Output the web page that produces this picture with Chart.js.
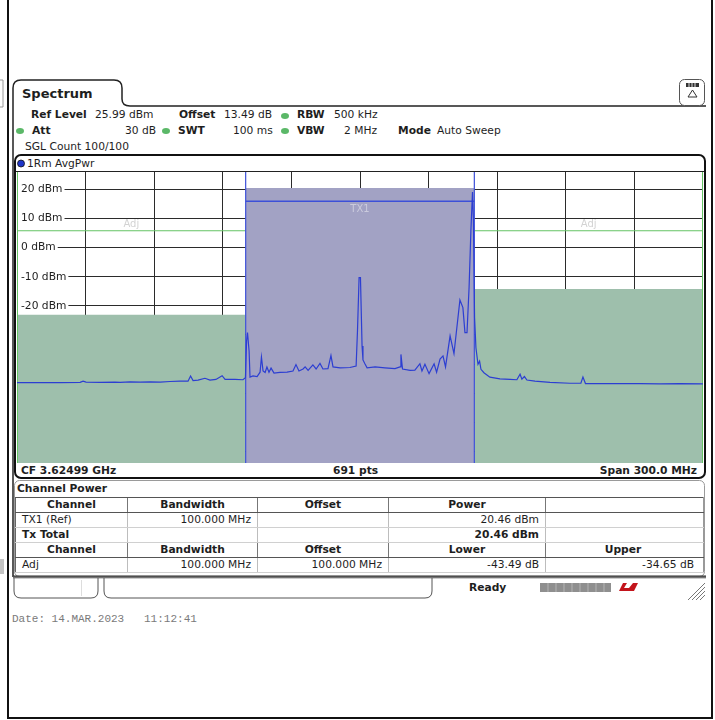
<!DOCTYPE html>
<html>
<head>
<meta charset="utf-8">
<title>Spectrum - Channel Power</title>
<script src="https://cdn.jsdelivr.net/npm/chart.js"></script>
<style>
  body { margin: 0; background: #fff; }
  #page { position: relative; width: 715px; height: 720px; overflow: hidden;
          font-family: "DejaVu Sans", Verdana, sans-serif; font-size: 10.7px; color: #1e1e1e; }
  #deco { position: absolute; left: 0; top: 0; }
  .t { position: absolute; white-space: nowrap; line-height: 13px; }
  .b { font-weight: bold; }
  .dot { position: absolute; width: 8px; height: 6px; border-radius: 50%; background: #5bb868; }
  #chartBox { position: absolute; left: 17px; top: 172px; width: 686px; height: 291px; }
  #cp { position: absolute; left: 15px; top: 497px; width: 688px; border-collapse: collapse; table-layout: fixed; }
  #cp td, #cp th { height: 14px; padding: 0 6px; line-height: 14px; font-size: 10.7px; white-space: nowrap;
                   border-left: 1px solid #bdbdbd; border-bottom: 1px solid #d0d0d0; overflow: hidden; }
  #cp th { text-align: center; font-weight: bold; border-top: 1px solid #555; border-bottom: 1px solid #555; border-left: 1px solid #777; }
  #cp td.r { text-align: right; }
  #cp tr td:last-child, #cp tr th:last-child { padding-right: 9px; border-right: 1px solid #999; }
  #cp tr > :first-child { border-left: 1px solid #666; }
  #date { position: absolute; left: 12px; top: 613px; font-family: "Liberation Mono", monospace; font-size: 11px; color: #7a7a7a; white-space: pre; }
</style>
</head>
<body>
<div id="page">
  <svg id="deco" width="715" height="720">
    <defs>
      <linearGradient id="sb" x1="0" y1="0" x2="0" y2="1">
        <stop offset="0" stop-color="#2a2a2a"/><stop offset="1" stop-color="#9a9a9a"/>
      </linearGradient>
    </defs>
    <rect x="8" y="-5" width="704" height="723" fill="none" stroke="#111" stroke-width="2"/>
    <path d="M0,80 H3 V107 H0" fill="none" stroke="#999" stroke-width="1"/>
    <path d="M1,559 V574 M3,559 V574" stroke="#888" stroke-width="1"/>
    <!-- Spectrum tab and panel -->
    <path d="M13,577 V88 Q13,80 21,80 H114 Q122,80 122,88 V99 Q122,106 130,106 H706" fill="none" stroke="#222" stroke-width="1.5"/>
    <rect x="679.5" y="79.5" width="25" height="26" rx="5" fill="#fff" stroke="#555"/>
    <rect x="686" y="83" width="13" height="4" fill="#333"/>
    <path d="M689,83 V87 M692,83 V87 M695,83 V87" stroke="#ddd" stroke-width="1"/>
    <path d="M692.5,90 L688,97 H697 Z" fill="none" stroke="#333" stroke-width="1"/>
    <!-- plot window -->
    <rect x="15" y="155" width="690" height="323" rx="6" fill="none" stroke="#111" stroke-width="2"/>
    <line x1="16" y1="171.5" x2="704" y2="171.5" stroke="#222" stroke-width="1"/>
    <circle cx="21" cy="163.5" r="3.5" fill="#1f35c8" stroke="#111" stroke-width="0.8"/>
    <!-- table panel -->
    <rect x="14.5" y="480.5" width="690" height="96" rx="5" fill="none" stroke="#9a9a9a"/>
    <!-- status bar -->
    <rect x="13" y="575.5" width="693" height="3" fill="url(#sb)"/>
    <path d="M14,578 V591 Q14,598 21,598 H91 Q98,598 98,591 V578" fill="none" stroke="#555"/>
    <line x1="81.5" y1="580" x2="81.5" y2="596" stroke="#ddd"/>
    <path d="M104,578 V591 Q104,598 111,598 H425 Q432,598 432,591 V578" fill="none" stroke="#555"/>
    <rect x="540" y="583" width="71" height="9" fill="#8f8f8f"/>
    <path d="M548,583 V592 M556,583 V592 M564,583 V592 M572,583 V592 M580,583 V592 M588,583 V592 M596,583 V592 M604,583 V592" stroke="#b4b4b4" stroke-width="1"/>
    <path d="M619,591 L623,583 H627 L624,588 H629 L633,583 H638 L634,591 Z" fill="#c3141c"/>
    <path d="M692,600 L705,587 M696,600 L705,591 M700,600 L705,595 M688,600 L705,583" stroke="#777" stroke-width="1"/>
  </svg>

  <div class="t" style="left:22px;top:86px;font-size:13px;line-height:15px;font-weight:bold;">Spectrum</div>

  <div class="t b" style="left:31px;top:108px;">Ref Level</div>
  <div class="t" style="left:95px;top:108px;">25.99 dBm</div>
  <div class="t b" style="left:179px;top:108px;">Offset</div>
  <div class="t" style="left:224px;top:108px;">13.49 dB</div>
  <div class="dot" style="left:281px;top:113px;"></div>
  <div class="t b" style="left:297px;top:108px;">RBW</div>
  <div class="t" style="left:334px;top:108px;">500 kHz</div>

  <div class="dot" style="left:16px;top:128px;"></div>
  <div class="t b" style="left:32px;top:124px;">Att</div>
  <div class="t" style="left:125px;top:124px;">30 dB</div>
  <div class="dot" style="left:162px;top:128px;"></div>
  <div class="t b" style="left:178px;top:124px;">SWT</div>
  <div class="t" style="left:233px;top:124px;">100 ms</div>
  <div class="dot" style="left:281px;top:128px;"></div>
  <div class="t b" style="left:297px;top:124px;">VBW</div>
  <div class="t" style="left:344px;top:124px;">2 MHz</div>
  <div class="t b" style="left:398px;top:124px;">Mode</div>
  <div class="t" style="left:437px;top:124px;">Auto Sweep</div>

  <div class="t" style="left:25px;top:140px;">SGL Count 100/100</div>
  <div class="t" style="left:27px;top:157px;">1Rm AvgPwr</div>

  <div id="chartBox"><canvas id="spec" width="686" height="291"></canvas></div>

  <div class="t b" style="left:21px;top:464px;">CF 3.62499 GHz</div>
  <div class="t b" style="left:333px;top:464px;">691 pts</div>
  <div class="t b" style="right:18px;top:464px;">Span 300.0 MHz</div>

  <div class="t b" style="left:17px;top:482px;">Channel Power</div>
  <table id="cp">
    <colgroup><col style="width:112px"><col style="width:130px"><col style="width:131px"><col style="width:157px"><col style="width:158px"></colgroup>
    <tr><th>Channel</th><th>Bandwidth</th><th>Offset</th><th>Power</th><th></th></tr>
    <tr><td>TX1 (Ref)</td><td class="r" id="bwTx"></td><td></td><td class="r" id="pTx"></td><td></td></tr>
    <tr><td class="b">Tx Total</td><td></td><td></td><td class="r b" id="pTot"></td><td></td></tr>
    <tr><th>Channel</th><th>Bandwidth</th><th>Offset</th><th>Lower</th><th>Upper</th></tr>
    <tr><td>Adj</td><td class="r" id="bwAdj"></td><td class="r" id="offAdj"></td><td class="r" id="pLow"></td><td class="r" id="pUp"></td></tr>
  </table>

  <div class="t b" style="left:469px;top:581px;">Ready</div>
  <div id="date">Date: 14.MAR.2023   11:12:41</div>
</div>

<script>
// sweep settings
const refLevelDbm = 25.99;
const rangeDb = 100;
const spanMHz = 300;
const txBandwidthMHz = 100;
const adjOffsetMHz = 100;

// measurement results
const txPowerDbm = 20.46;
const adjLowerDb = -43.49;
const adjUpperDb = -34.65;
const txLimitDbm = 15.9;
const adjLimitDbm = 5.8;

// grid / tick labels
const yGridDbm = [20, 10, 0, -10, -20, -30, -40, -50, -60, -70];
const yTickLabels = ["20 dBm", "10 dBm", "0 dBm", "-10 dBm", "-20 dBm"];
const xGridMHz = [-120, -90, -60, -30, 0, 30, 60, 90, 120];

// trace (offset from CF in MHz)
const freqMHz = [
  -150.0, -139.9, -131.2, -122.4, -121.1, -119.8, -113.7, -107.1, -104.9, -100.6,
  -96.2, -91.8, -87.4, -83.1, -78.7, -75.2, -74.1, -73.0, -70.8, -67.8,
  -65.6, -63.0, -60.3, -59.0, -54.7, -51.2, -50.1, -49.6, -49.2, -48.5,
  -48.1, -46.8, -45.0, -43.7, -43.1, -42.4, -41.5, -40.7, -39.8, -38.9,
  -37.6, -35.0, -31.9, -29.3, -28.0, -26.7, -24.9, -24.0, -22.7, -20.6,
  -19.2, -17.5, -16.2, -14.0, -12.7, -11.8, -8.7, -4.4, -1.7, -1.1,
  -0.4, 0.2, 0.9, 1.3, 2.2, 3.1, 6.6, 10.9, 15.3, 17.5,
  17.9, 18.6, 21.9, 24.0, 26.2, 27.1, 28.4, 30.2, 32.4, 33.5,
  35.0, 36.3, 37.4, 39.4, 41.1, 43.7, 45.0, 45.9, 46.8, 47.7,
  48.5, 49.2, 49.6, 50.1, 50.7, 51.6, 52.3, 52.9, 54.2, 56.8,
  61.2, 65.6, 68.6, 70.0, 70.8, 71.9, 73.0, 76.5, 83.1, 91.8,
  96.6, 97.5, 98.6, 104.9, 113.7, 122.4, 131.2, 139.9, 150.0
];
const levelDbm = [
  -46.4, -46.4, -46.4, -46.3, -45.9, -46.2, -46.3, -46.2, -46.3, -46.1,
  -46.2, -46.1, -46.2, -46.0, -45.9, -45.9, -44.1, -45.7, -45.5, -44.9,
  -45.5, -45.3, -44.0, -45.3, -45.3, -45.4, -44.7, -32.1, -29.2, -35.5,
  -44.5, -44.1, -44.3, -42.8, -37.6, -42.4, -42.9, -41.0, -42.8, -41.4,
  -43.1, -42.9, -42.8, -42.4, -40.2, -42.4, -41.7, -41.0, -42.2, -40.3,
  -41.7, -39.8, -41.7, -41.6, -37.1, -41.0, -41.3, -41.2, -40.7, -28.6,
  -10.3, -10.3, -33.8, -38.6, -40.0, -41.3, -41.0, -41.3, -41.6, -41.0,
  -36.7, -41.7, -42.2, -42.1, -39.9, -42.4, -40.1, -43.3, -39.9, -42.8,
  -38.3, -37.2, -41.0, -30.3, -36.4, -18.0, -20.6, -29.2, -29.2, -13.7,
  5.9, 19.1, 9.3, -24.0, -34.4, -40.1, -39.0, -41.8, -43.0, -44.5,
  -45.1, -45.3, -45.4, -43.5, -45.2, -44.3, -45.5, -45.9, -46.3, -46.6,
  -46.6, -44.5, -46.7, -46.7, -46.7, -46.7, -46.8, -46.7, -46.8
];

const fmt = (v, d) => v.toFixed(d);
document.getElementById("bwTx").textContent = fmt(txBandwidthMHz, 3) + " MHz";
document.getElementById("bwAdj").textContent = fmt(txBandwidthMHz, 3) + " MHz";
document.getElementById("offAdj").textContent = fmt(adjOffsetMHz, 3) + " MHz";
document.getElementById("pTx").textContent = fmt(txPowerDbm, 2) + " dBm";
document.getElementById("pTot").textContent = fmt(txPowerDbm, 2) + " dBm";
document.getElementById("pLow").textContent = fmt(adjLowerDb, 2) + " dB";
document.getElementById("pUp").textContent = fmt(adjUpperDb, 2) + " dB";

const yMin = refLevelDbm - rangeDb;
const yMax = refLevelDbm;
const txLo = -txBandwidthMHz / 2;
const txHi = txBandwidthMHz / 2;
const adjLo = [-adjOffsetMHz - txBandwidthMHz / 2, -adjOffsetMHz + txBandwidthMHz / 2];
const adjHi = [adjOffsetMHz - txBandwidthMHz / 2, adjOffsetMHz + txBandwidthMHz / 2];
const lowerLevel = txPowerDbm + adjLowerDb;
const upperLevel = txPowerDbm + adjUpperDb;

const traceColor = "#2c3ed2";
const txLineColor = "#3d50d8";
const adjLineColor = "#66c466";
const gridColor = "#2b2b2b";
const noLine = "rgba(0,0,0,0)";

const channelLabels = {
  id: "channelLabels",
  afterDatasetsDraw(chart) {
    const { ctx, scales: { x, y } } = chart;
    ctx.save();
    ctx.font = "10px 'DejaVu Sans'";
    ctx.textAlign = "center";
    ctx.textBaseline = "bottom";
    ctx.fillStyle = "#d3d3d3";
    ctx.fillText("Adj", x.getPixelForValue(-adjOffsetMHz), y.getPixelForValue(adjLimitDbm) - 1);
    ctx.fillText("Adj", x.getPixelForValue(adjOffsetMHz), y.getPixelForValue(adjLimitDbm) - 1);
    ctx.textBaseline = "top";
    ctx.fillStyle = "#cbcbdd";
    ctx.fillText("TX1", x.getPixelForValue(0), y.getPixelForValue(txLimitDbm) + 3);
    ctx.restore();
  },
};

new Chart(document.getElementById("spec").getContext("2d"), {
  type: "line",
  data: {
    datasets: [
      {
        label: "1Rm AvgPwr",
        data: freqMHz.map((f, i) => ({ x: f, y: levelDbm[i] })),
        borderColor: traceColor,
        borderWidth: 1.2,
        pointRadius: 0,
        tension: 0,
        order: 0,
      },
      {
        label: "TX1 level",
        data: [{ x: txLo, y: txLimitDbm }, { x: txHi, y: txLimitDbm }],
        borderColor: txLineColor,
        borderWidth: 1.5,
        pointRadius: 0,
        order: 1,
      },
      {
        label: "TX1 edges",
        data: [{ x: txLo, y: yMin }, { x: txLo, y: yMax }, { x: 0, y: null }, { x: txHi, y: yMin }, { x: txHi, y: yMax }],
        borderColor: txLineColor,
        borderWidth: 1.2,
        pointRadius: 0,
        order: 1,
      },
      {
        label: "Adj level",
        data: [{ x: adjLo[0], y: adjLimitDbm }, { x: adjLo[1], y: adjLimitDbm }, { x: 0, y: null },
               { x: adjHi[0], y: adjLimitDbm }, { x: adjHi[1], y: adjLimitDbm }],
        borderColor: adjLineColor,
        borderWidth: 1.2,
        pointRadius: 0,
        order: 2,
      },
      {
        label: "Adj edges",
        data: [{ x: adjLo[0], y: yMin }, { x: adjLo[0], y: yMax }, { x: 0, y: null }, { x: adjHi[1], y: yMin }, { x: adjHi[1], y: yMax }],
        borderColor: adjLineColor,
        borderWidth: 2,
        pointRadius: 0,
        clip: false,
        order: 2,
      },
      {
        label: "Adj lower",
        data: [{ x: adjLo[0], y: lowerLevel }, { x: adjLo[1], y: lowerLevel }],
        borderColor: noLine,
        backgroundColor: "#9ebfac",
        fill: "start",
        pointRadius: 0,
        order: 5,
      },
      {
        label: "TX1",
        data: [{ x: txLo, y: txPowerDbm }, { x: txHi, y: txPowerDbm }],
        borderColor: noLine,
        backgroundColor: "#a2a2c4",
        fill: "start",
        pointRadius: 0,
        order: 5,
      },
      {
        label: "Adj upper",
        data: [{ x: adjHi[0], y: upperLevel }, { x: adjHi[1], y: upperLevel }],
        borderColor: noLine,
        backgroundColor: "#9ebfac",
        fill: "start",
        pointRadius: 0,
        order: 5,
      },
    ],
  },
  options: {
    responsive: false,
    animation: false,
    events: [],
    layout: { padding: 0 },
    plugins: {
      legend: { display: false },
      tooltip: { enabled: false },
    },
    scales: {
      x: {
        type: "linear",
        min: -spanMHz / 2,
        max: spanMHz / 2,
        afterBuildTicks: (scale) => {
          scale.ticks = xGridMHz.map((v) => ({ value: v }));
        },
        border: { display: false },
        grid: { color: gridColor, lineWidth: 1, drawTicks: false },
        ticks: { display: false },
      },
      y: {
        type: "linear",
        min: yMin,
        max: yMax,
        afterBuildTicks: (scale) => {
          scale.ticks = yGridDbm.map((v) => ({ value: v }));
        },
        afterFit: (scale) => {
          scale.width = 0;
          scale.paddingTop = 0;
          scale.paddingBottom = 0;
        },
        border: { display: false },
        grid: { color: gridColor, lineWidth: 1, drawTicks: false },
        ticks: {
          mirror: true,
          padding: 4,
          color: "#1e1e1e",
          font: { family: "'DejaVu Sans'", size: 10.7 },
          callback: (value, index) => yTickLabels[index] || "",
          showLabelBackdrop: true,
          backdropColor: "#ffffff",
          backdropPadding: { left: 4, right: 2, top: 0, bottom: 0 },
        },
      },
    },
  },
  plugins: [channelLabels],
});
</script>
</body>
</html>
